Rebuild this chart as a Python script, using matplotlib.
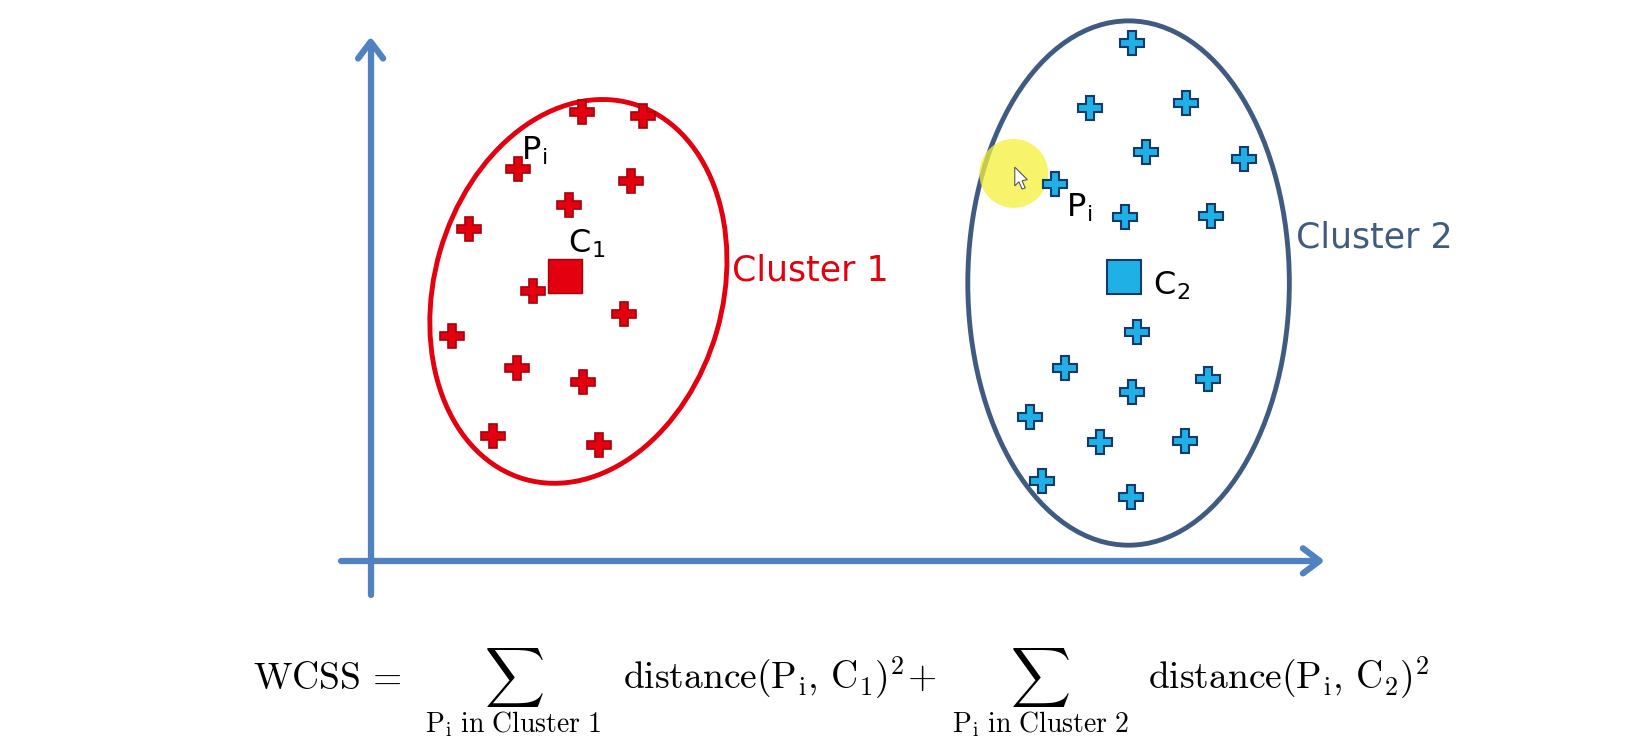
"""WCSS illustration: two clusters with centroids and the WCSS formula."""

import matplotlib.pyplot as plt
from matplotlib.patches import Ellipse, Circle, Polygon

plt.rcParams["mathtext.fontset"] = "cm"

# --- data (picture coordinates, y grows downward) ---
c1_x = [557, 616, 496, 604, 545, 449, 511, 598, 433, 495, 558, 472, 574]
c1_y = [107, 111, 162, 173, 196, 219, 279, 301, 322, 352, 366, 417, 426]
c2_x = [1084, 1044, 1136, 1098, 1192, 1011, 1078, 1160, 1089, 1020, 1084,
        1157, 987, 1054, 1135, 998, 1083]
c2_y = [41, 103, 99, 146, 152, 176, 208, 207, 318, 352, 375, 363, 399, 423,
        422, 461, 476]
centroids_x = [541, 1077]
centroids_y = [264, 265]
cluster_labels = ["Cluster 1", "Cluster 2"]

RED = "#e3000f"
RED_EDGE = "#a8000a"
BLUE = "#1fb1e6"
BLUE_EDGE = "#143a6b"
SLATE = "#3f5b82"
AXIS = "#5081c1"

fig = plt.figure(figsize=(16.37, 7.52), dpi=100)
ax = fig.add_axes([0, 0, 1, 1])
ax.set_xlim(0, 1568)
ax.set_ylim(720, 0)
ax.axis("off")

# axes arrows
ax.plot([355, 355], [570, 42], color=AXIS, lw=4.5, solid_capstyle="round", zorder=1)
ax.plot([343, 355, 367], [56, 40, 56], color=AXIS, lw=4.5,
        solid_capstyle="round", solid_joinstyle="round", zorder=1)
ax.plot([327, 1262], [537, 537], color=AXIS, lw=4.5, solid_capstyle="round", zorder=1)
ax.plot([1248, 1264, 1248], [525, 537, 549], color=AXIS, lw=4.5,
        solid_capstyle="round", solid_joinstyle="round", zorder=1)

# cluster outlines
ax.add_patch(Ellipse((554, 279), 276, 374, angle=16, fill=False,
                     ec=RED, lw=3.5, zorder=2))
ax.add_patch(Ellipse((1081, 271), 308, 502, angle=0, fill=False,
                     ec=SLATE, lw=3.5, zorder=2))

# yellow cursor highlight
ax.add_patch(Circle((971, 166), 33, color="#f5f03a", alpha=0.75, lw=0, zorder=2))
ax.add_patch(Polygon([[972, 160], [972, 178], [976, 174], [979, 181],
                      [982, 180], [979, 173], [984, 172]],
                     closed=True, fc="white", ec="#555555", lw=0.8, zorder=6))

# points
ax.plot(c1_x, c1_y, "P", ms=17, mfc=RED, mec=RED_EDGE, mew=1.2, ls="none", zorder=4)
ax.plot(c2_x, c2_y, "P", ms=17, mfc=BLUE, mec=BLUE_EDGE, mew=1.5, ls="none", zorder=4)
ax.plot(centroids_x[:1], centroids_y[:1], "s", ms=24, mfc=RED, mec=RED_EDGE,
        mew=1.0, ls="none", zorder=5)
ax.plot(centroids_x[1:], centroids_y[1:], "s", ms=24, mfc=BLUE, mec=BLUE_EDGE,
        mew=1.5, ls="none", zorder=5)

# labels
lab = dict(fontsize=23, color="black", zorder=7)
ax.text(499, 153, r"P$_\mathregular{i}$", **lab)
ax.text(1021, 207, r"P$_\mathregular{i}$", **lab)
ax.text(544, 242, r"C$_\mathregular{1}$", **lab)
ax.text(1104, 282, r"C$_\mathregular{2}$", **lab)
ax.text(701, 259, cluster_labels[0], fontsize=25, color=RED, va="center")
ax.text(1241, 227, cluster_labels[1], fontsize=25, color=SLATE, va="center")

# WCSS formula
fs = 27
base = 660
ax.text(242, base, r"$\mathrm{WCSS}\,=$", fontsize=fs, va="baseline")
ax.text(464, base + 2, r"$\sum$", fontsize=30, va="baseline")
ax.text(492, 701, r"$\mathrm{P_i\ in\ Cluster\ 1}$", fontsize=20,
        ha="center", va="baseline")
ax.text(597, base, r"$\mathrm{distance(P_i,\,C_1)^2\!+}$", fontsize=fs, va="baseline")
ax.text(967, base + 2, r"$\sum$", fontsize=30, va="baseline")
ax.text(997, 701, r"$\mathrm{P_i\ in\ Cluster\ 2}$", fontsize=20,
        ha="center", va="baseline")
ax.text(1100, base, r"$\mathrm{distance(P_i,\,C_2)^2}$", fontsize=fs, va="baseline")

fig.savefig("out.png", dpi=100, facecolor="white")
